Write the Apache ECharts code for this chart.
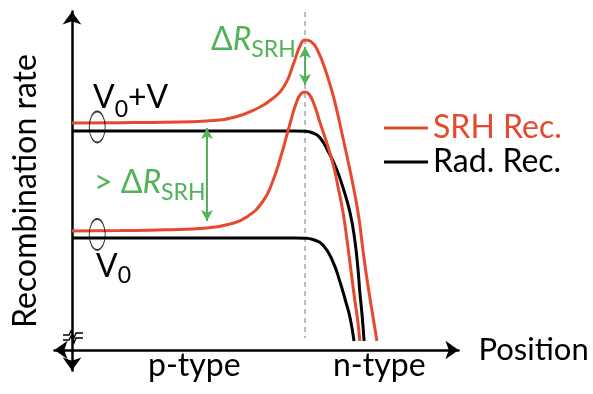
<!DOCTYPE html>
<html>
<head>
<meta charset="utf-8">
<script src="https://cdn.jsdelivr.net/npm/echarts@6/dist/echarts.min.js"></script>
<style>
  html, body { margin: 0; padding: 0; background: #fff; }
  #chart { width: 593px; height: 394px; }
</style>
</head>
<body>
<div id="chart"></div>
<script>
// Recombination rate across a p-n junction, at V0 and at V0+V.
// Position is in arbitrary units (junction at 6), rate in arbitrary units.

const junctionX = 6;

// SRH recombination, bias V0+V
const srhHigh = [
  [0, 22.7], [1.24, 22.73], [2.39, 22.78], [3.475, 22.9], [4.2, 23.3], [4.74, 24.1],
  [5.15, 25.1], [5.48, 26.5], [5.71, 28.7], [5.87, 30.4], [6.0, 31.0], [6.15, 30.85],
  [6.33, 29.9], [6.54, 27.8], [6.74, 25.2], [6.92, 22.2], [7.10, 19.0], [7.26, 16.0],
  [7.39, 13.1], [7.49, 10.0], [7.59, 7.2], [7.72, 4.0], [7.85, 0.9]
];
// SRH recombination, bias V0
const srhLow = [
  [0, 11.9], [1.24, 11.94], [2.39, 12.02], [3.475, 12.2], [4.07, 12.6], [4.5, 13.3],
  [4.92, 14.9], [5.17, 16.9], [5.38, 19.4], [5.61, 22.6], [5.79, 24.9], [5.89, 25.6],
  [6.0, 25.8], [6.1, 25.6], [6.23, 24.6], [6.38, 22.8], [6.56, 20.7], [6.72, 18.6],
  [6.85, 16.3], [6.98, 13.7], [7.08, 11.0], [7.18, 8.0], [7.28, 5.0], [7.36, 2.8],
  [7.41, 0.9]
];
// Radiative recombination, bias V0+V
const radHigh = [
  [0, 21.9], [2.0, 21.9], [4.07, 21.9], [5.74, 21.9], [6.0, 21.87], [6.2, 21.7],
  [6.38, 21.25], [6.59, 19.9], [6.8, 18.2], [6.98, 16.2], [7.16, 13.7], [7.28, 11.0],
  [7.36, 8.2], [7.41, 5.8], [7.47, 3.4], [7.52, 0.9]
];
// Radiative recombination, bias V0
const radLow = [
  [0, 11.2], [2.0, 11.2], [4.07, 11.2], [5.74, 11.2], [6.0, 11.18], [6.2, 11.05],
  [6.46, 10.5], [6.72, 8.8], [6.9, 6.8], [7.05, 4.8], [7.16, 3.2], [7.26, 0.9]
];

const legendNames = ['SRH Rec.', 'Rad. Rec.'];
const regionNames = ['p-type', 'n-type'];
const axisNames = { x: 'Position', y: 'Recombination rate' };

const RED = '#e64a2e';
const GREEN = '#52b257';
const FONT = 'Lato, "Open Sans", sans-serif';
const BIG = 32, SMALL = 23;

// peak values of the two SRH profiles (at the junction)
const peakHigh = Math.max(...srhHigh.map(p => p[1]));
const peakLow = Math.max(...srhLow.map(p => p[1]));
// flat-region values at the left green arrow
const leftArrowIdx = 3;
const arrowX = srhHigh[leftArrowIdx][0];
const INSET = 0.7;   // keeps the arrow tips on the curve edges

// bias markers: ellipses around the SRH/Rad pair in the p-region
const markerX = 0.65;
const markers = [
  [markerX, (srhHigh[0][1] + radHigh[0][1]) / 2],
  [markerX, (srhLow[0][1] + radLow[0][1]) / 2]
];

const ellipsePath = 'path://M0,-1C0.552,-1,1,-0.552,1,0C1,0.552,0.552,1,0,1C-0.552,1,-1,0.552,-1,0C-1,-0.552,-0.552,-1,0,-1Z';

// text runs with subscripts, laid out by measured widths
const measureCtx = document.createElement('canvas').getContext('2d');
function textRun(parts, x, baseline, color) {
  let cx = x;
  return parts.map(p => {
    const font = (p.italic ? 'italic ' : '') + p.size + 'px ' + FONT;
    measureCtx.font = font;
    const w = measureCtx.measureText(p.t).width;
    const el = {
      type: 'text', silent: true, z: 10,
      x: cx, y: baseline + (p.dy || 0) - 0.32 * p.size,
      style: { text: p.t, font: font, fill: color, align: 'left', verticalAlign: 'middle' }
    };
    cx += w;
    return el;
  });
}

const annotations = [].concat(
  textRun([{ t: 'V', size: BIG }, { t: '0', size: SMALL, dy: 9 }, { t: '+V', size: BIG }], 93, 108, '#000'),
  textRun([{ t: 'V', size: BIG }, { t: '0', size: SMALL, dy: 6 }], 96, 277, '#000'),
  textRun([{ t: 'Δ', size: BIG }, { t: 'R', size: BIG, italic: true }, { t: 'SRH', size: SMALL, dy: 7 }], 211, 50, GREEN),
  textRun([{ t: '> Δ', size: BIG }, { t: 'R', size: BIG, italic: true }, { t: 'SRH', size: SMALL, dy: 7 }], 94, 193, GREEN),
  textRun([{ t: regionNames[0], size: BIG }], 148, 376, '#000'),
  textRun([{ t: regionNames[1], size: BIG }], 333, 376, '#000')
);

// axis break marks on the rate axis
const breakMarks = [0, 5].map(dy => ({
  type: 'polyline', silent: true,
  shape: { points: [[63, 335 + dy], [69, 335 + dy], [71, 331 + dy], [74, 338 + dy], [76, 333 + dy], [83, 333 + dy]] },
  style: { stroke: '#000', lineWidth: 1.4, fill: null }
}));

const curveStyle = (color) => ({
  type: 'line', smooth: 0.5, showSymbol: false, silent: true,
  lineStyle: { color: color, width: 3 }, itemStyle: { color: color }
});

const chart = echarts.init(document.getElementById('chart'), null, { renderer: 'canvas' });
chart.setOption({
  animation: false,
  backgroundColor: '#fff',
  grid: { left: 54.5, right: 134.5, top: 11.5, bottom: 23.5, containLabel: false, outerBoundsMode: 'none' },
  xAxis: {
    type: 'value', min: -0.45, max: 9.95,
    name: axisNames.x, nameLocation: 'end', nameGap: 20,
    nameTextStyle: { fontFamily: FONT, fontSize: 31, color: '#000', verticalAlign: 'middle', align: 'left' },
    axisLine: { onZero: true, symbol: ['arrow', 'arrow'], symbolSize: [14, 13], lineStyle: { color: '#000', width: 2.5 } },
    axisTick: { show: false }, axisLabel: { show: false }, splitLine: { show: false }
  },
  yAxis: {
    type: 'value', min: -2.05, max: 33.85,
    name: axisNames.y, nameLocation: 'middle', nameRotate: 90, nameGap: 13,
    nameTextStyle: { fontFamily: FONT, fontSize: 32, color: '#000' },
    axisLine: { onZero: true, symbol: ['arrow', 'arrow'], symbolSize: [14, 13], lineStyle: { color: '#000', width: 2.5 } },
    axisTick: { show: false }, axisLabel: { show: false }, splitLine: { show: false }
  },
  legend: {
    orient: 'vertical', left: 379, top: 107, itemGap: 2,
    icon: 'rect', itemWidth: 44, itemHeight: 3,
    textStyle: { fontFamily: FONT, fontSize: 32, lineHeight: 30 },
    data: [
      { name: legendNames[0], textStyle: { color: RED } },
      { name: legendNames[1], textStyle: { color: '#000' } }
    ],
    selectedMode: false
  },
  series: [
    Object.assign({ name: legendNames[1], data: radHigh, z: 3 }, curveStyle('#000')),
    Object.assign({ name: legendNames[1], data: radLow, z: 3 }, curveStyle('#000')),
    Object.assign({ name: legendNames[0], data: srhHigh, z: 4 }, curveStyle(RED)),
    Object.assign({ name: legendNames[0], data: srhLow, z: 4 }, curveStyle(RED)),
    {
      name: 'junction', type: 'line', showSymbol: false, silent: true, z: 2,
      data: [[junctionX, 33.8], [junctionX, 1.2]],
      lineStyle: { color: '#7a7a7a', width: 1, type: [5, 4] }
    },
    {
      name: 'bias', type: 'scatter', silent: true, z: 5,
      symbol: ellipsePath, symbolSize: [16, 31],
      data: markers,
      itemStyle: { color: 'rgba(0,0,0,0)', borderColor: '#000', borderWidth: 1.3 }
    },
    {
      name: 'delta', type: 'line', data: [], silent: true, z: 6,
      markLine: {
        silent: true, symbol: ['arrow', 'arrow'], symbolSize: [9, 11],
        label: { show: false },
        lineStyle: { color: GREEN, width: 2, type: 'solid' },
        data: [
          [{ coord: [junctionX, peakHigh - INSET] }, { coord: [junctionX, peakLow + INSET] }],
          [{ coord: [arrowX, srhHigh[leftArrowIdx][1] - INSET] }, { coord: [arrowX, srhLow[leftArrowIdx][1] + INSET] }]
        ]
      }
    }
  ],
  graphic: annotations.concat(breakMarks)
});
</script>
</body>
</html>
